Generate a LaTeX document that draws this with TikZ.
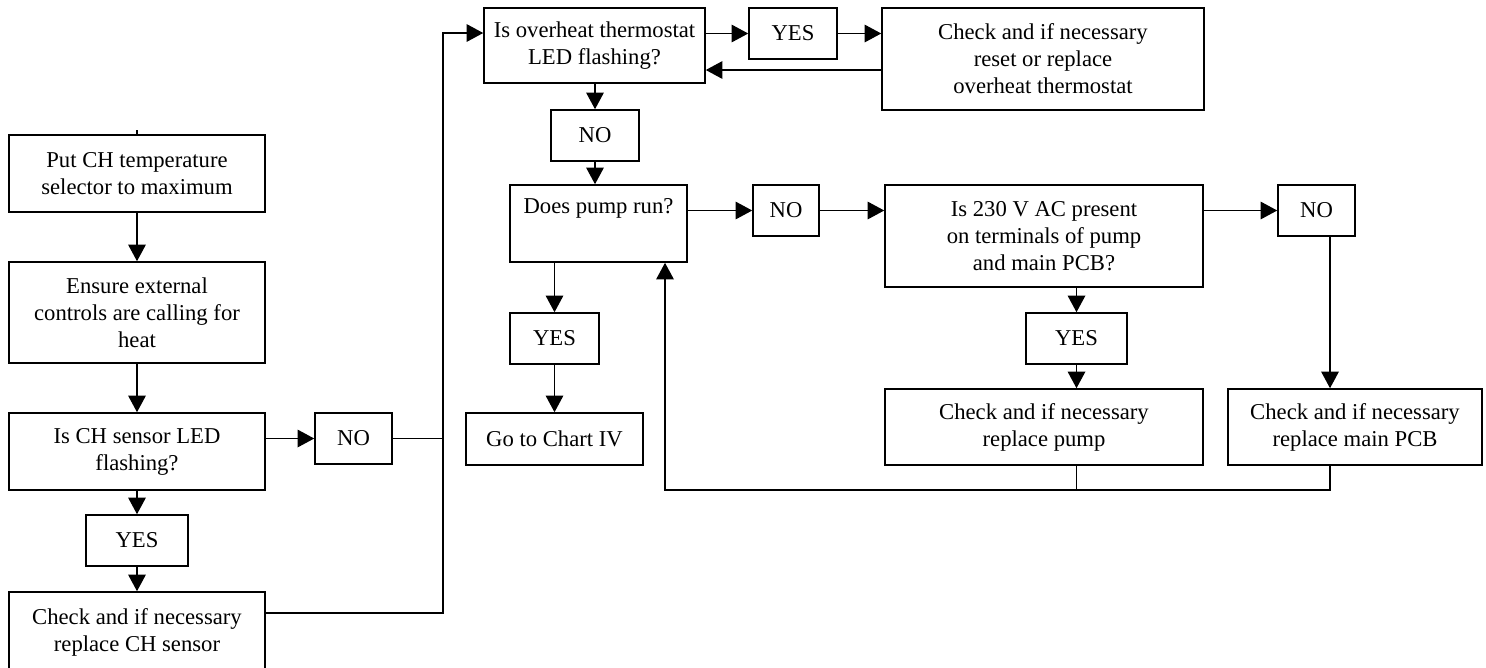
\documentclass[tikz,border=0pt]{standalone}
\usepackage{fontspec}
\setmainfont{Liberation Serif}
\usepackage{tikz}
\usetikzlibrary{arrows.meta,positioning}

\begin{document}
\begin{tikzpicture}[x=0.02cm, y=-0.02cm, >={Triangle[length=9.5pt,width=10pt]},
  bx/.style={draw, line width=0.9pt, align=center, inner sep=0pt,
    font=\fontsize{12.9}{15.4}\selectfont},
  ln/.style={line width=0.9pt}]
\useasboundingbox (0,0) rectangle (1486,667);

% left column
\node[bx, minimum width=5.12cm, minimum height=1.54cm] (put) at (137,173.5) {Put CH temperature\\selector to maximum};
\node[bx, minimum width=5.12cm, minimum height=2.02cm] (ensure) at (137,312.5) {Ensure external\\controls are calling for\\heat};
\node[bx, minimum width=5.12cm, minimum height=1.54cm] (chsens) at (137,451.5) {Is CH sensor LED\\flashing?};
\node[bx, minimum width=2.04cm, minimum height=1.02cm] (yes1) at (137,540.5) {YES};
\node[bx, minimum width=5.12cm, minimum height=1.6cm] (replsens) at (137,632) {Check and if necessary\\replace CH sensor};
\node[bx, minimum width=1.54cm, minimum height=1.02cm] (no1) at (353.5,438.5) {NO};

% top row
\node[bx, minimum width=4.42cm, minimum height=1.5cm] (overheat) at (594.5,45.5) {Is overheat thermostat\\LED flashing?};
\node[bx, minimum width=1.76cm, minimum height=1.02cm] (yes2) at (793,33.5) {YES};
\node[bx, minimum width=6.44cm, minimum height=2.04cm] (reset) at (1043,59) {Check and if necessary\\reset or replace\\overheat thermostat};
\node[bx, minimum width=1.76cm, minimum height=1.02cm] (no2) at (595,135.5) {NO};

% pump checks
\node[bx, minimum width=3.54cm, minimum height=1.54cm] (pump) at (598.5,223.5) {Does pump run?\\\strut};
\node[bx, minimum width=1.78cm, minimum height=1.02cm] (yes3) at (554.5,338.5) {YES};
\node[bx, minimum width=3.54cm, minimum height=1.04cm] (chart) at (554.5,439) {Go to Chart IV};
\node[bx, minimum width=1.32cm, minimum height=1.02cm] (no3) at (786,210.5) {NO};
\node[bx, minimum width=6.36cm, minimum height=2.04cm] (vac) at (1044,236) {Is 230 V AC present\\on terminals of pump\\and main PCB?};
\node[bx, minimum width=1.54cm, minimum height=1.02cm] (no4) at (1316.5,210.5) {NO};
\node[bx, minimum width=2.02cm, minimum height=1.02cm] (yes4) at (1076.5,338.5) {YES};
\node[bx, minimum width=6.36cm, minimum height=1.52cm] (rpump) at (1044,427) {Check and if necessary\\replace pump};
\node[bx, minimum width=5.08cm, minimum height=1.52cm] (rpcb) at (1355,427) {Check and if necessary\\replace main PCB};

\coordinate (busTop) at (443,33);
\coordinate (busBot) at (443,613);
\coordinate (ret) at (800,70);
\coordinate (pcbIn) at (1330,200);
\coordinate (loop) at (665,490);

\draw[ln] (put.north) -- ++(0,-4);
\draw[ln,->] (put) -- (ensure);
\draw[ln,->] (ensure) -- (chsens);
\draw[ln,->] (chsens) -- (yes1);
\draw[ln,->] (yes1) -- (replsens);
\draw[ln,->] (no1.west -| chsens.east) -- (no1.west);
\draw[ln] (no1.east) -- (no1.east -| busTop);
\draw[ln,->] (busBot -| replsens.east) -- (busBot) -- (busTop) -- (busTop -| overheat.west);

\draw[ln,->] (yes2.west -| overheat.east) -- (yes2.west);
\draw[ln,->] (yes2.east) -- (yes2.east -| reset.west);
\draw[ln,->] (ret -| reset.west) -- (ret -| overheat.east);
\draw[ln,->] (overheat.south -| no2) -- (no2.north);
\draw[ln,->] (no2.south) -- (no2.south |- pump.north);

\draw[ln,->] (no3.west -| pump.east) -- (no3.west);
\draw[ln,->] (no3.east) -- (no3.east -| vac.west);
\draw[ln,->] (no4.west -| vac.east) -- (no4.west);
\draw[ln,->] (pump.south -| yes3) -- (yes3.north);
\draw[ln,->] (yes3) -- (chart);
\draw[ln,->] (vac.south -| yes4) -- (yes4.north);
\draw[ln,->] (yes4.south) -- (yes4.south |- rpump.north);
\draw[ln,->] (pcbIn |- no4.south) -- (pcbIn |- rpcb.north);

\draw[ln] (yes4 |- rpump.south) -- (yes4 |- loop);
\draw[ln,->] (pcbIn |- rpcb.south) |- (loop) -- (loop |- pump.south);
\end{tikzpicture}
\end{document}
